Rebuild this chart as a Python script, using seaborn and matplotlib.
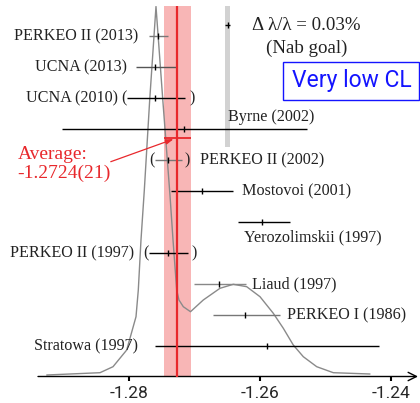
import matplotlib
matplotlib.use("Agg")
import matplotlib.pyplot as plt
import seaborn as sns
import pandas as pd
from matplotlib.patches import Rectangle

# ---------------- data ----------------
experiments = ["Stratowa (1997)", "PERKEO I (1986)", "Liaud (1997)", "PERKEO II (1997)",
               "Yerozolimskii (1997)", "Mostovoi (2001)", "PERKEO II (2002)", "Byrne (2002)",
               "UCNA (2010)", "UCNA (2013)", "PERKEO II (2013)"]
values = [-1.2590, -1.2623, -1.2663, -1.2741, -1.2597, -1.2689, -1.2740, -1.2716,
          -1.2761, -1.2761, -1.2755]
err_lo = [0.0171, 0.0048, 0.0038, 0.0029, 0.0037, 0.0047, 0.0020, 0.0187, 0.0042, 0.0028, 0.0014]
err_hi = [0.0172, 0.0053, 0.0042, 0.0031, 0.0043, 0.0048, 0.0021, 0.0187, 0.0046, 0.0032, 0.0014]

avg_value = -1.2726
avg_err = 0.0021
avg_text = ["Average:", "-1.2724(21)"]

nab_value = -1.2649
nab_rel = 0.0003  # 0.03 %

# ideogram curve (arbitrary height units)
curve_x = [-1.29256, -1.28443, -1.28244, -1.28035, -1.27893, -1.27858, -1.27817, -1.27766,
           -1.27684, -1.27588, -1.27484, -1.27374, -1.27328, -1.27272, -1.27237, -1.27171,
           -1.27061, -1.26866, -1.26611, -1.26408, -1.26203, -1.26000, -1.25797, -1.25644,
           -1.25492, -1.25339, -1.25134, -1.24881, -1.24321]
curve_h = [1.5, 3.8, 9.8, 26.5, 59.8, 86.5, 136.5, 186.5, 276.5, 370.0, 276.5, 181.0, 136.5,
           86.5, 76.5, 69.8, 64.8, 76.5, 88.2, 92.2, 89.8, 79.8, 63.2, 48.2, 31.5, 19.8, 9.8,
           3.8, 2.5]

ticks = [-1.28, -1.26, -1.24]
tick_labels = ["-1.28", "-1.26", "-1.24"]

# ---------------- style / layout ----------------
W, H = 420, 403
sns.set_style("white")
plt.rcParams["font.family"] = ["Liberation Serif", "DejaVu Serif"]

fig = plt.figure(figsize=(W / 100, H / 100), dpi=100)
ax_l, ax_r, ax_t, ax_b = 38, 418, 6, 376.5
ax = fig.add_axes([ax_l / W, (H - ax_b) / H, (ax_r - ax_l) / W, (ax_b - ax_t) / H])
ax.set_xlim(-1.293893, -1.235878)
ax.set_ylim(0, ax_b - ax_t)

ROW0, PITCH = 30.6, 30.95
rows = [ROW0 + PITCH * i for i in range(len(experiments))]
avg_row = 238.8
nab_row = 351.5

bar_colors = ["black", "#777777", "#888888", "black", "black", "black", "#777777", "black",
              "black", "#555555", "#777777"]

# bands
ax.axvspan(avg_value - avg_err, avg_value + avg_err, color="#f8b6b6", lw=0, zorder=0)
nab_err = abs(nab_value) * nab_rel
ax.axvspan(nab_value - nab_err, nab_value + nab_err, ymin=229.5 / (ax_b - ax_t), ymax=1,
           color="#d2d2d2", lw=0, zorder=0)

# ideogram curve
sns.lineplot(x=curve_x, y=curve_h, ax=ax, color="#8a8a8a", lw=1.0, zorder=2)

# error bars
df = pd.DataFrame({"exp": experiments, "val": values, "lo": err_lo, "hi": err_hi,
                   "row": rows, "color": bar_colors})
for _, r in df.iterrows():
    ax.hlines(r.row, r.val - r.lo, r.val + r.hi, color=r.color, lw=1.0, zorder=3)
    ax.vlines(r.val, r.row - 3, r.row + 3, color="black", lw=1.0, zorder=3)

# average
ax.axvline(avg_value, color="#e8282c", lw=1.6, zorder=4)
ax.hlines(avg_row, avg_value - avg_err, avg_value + avg_err, color="#e8282c", lw=1.3, zorder=4)

# nab marker
ax.hlines(nab_row, nab_value - nab_err, nab_value + nab_err, color="black", lw=1.0, zorder=3)
ax.vlines(nab_value, nab_row - 3, nab_row + 3, color="black", lw=1.0, zorder=3)

# labels: (anchor end, dx px, dy px, ha)
lab_layout = {
    "Stratowa (1997)": ("lo", -17, 0, "right"),
    "PERKEO I (1986)": ("hi", 7, 0, "left"),
    "Liaud (1997)": ("hi", 6, 0, "left"),
    "PERKEO II (1997)": ("lo", -15, 0, "right"),
    "Yerozolimskii (1997)": ("lo", 6.5, -15, "left"),
    "Mostovoi (2001)": ("hi", 9, 0, "left"),
    "PERKEO II (2002)": ("hi", 18, 0, "left"),
    "Byrne (2002)": ("hi", 8, 12, "right"),
    "UCNA (2010)": ("lo", -9.5, 0, "right"),
    "UCNA (2013)": ("lo", -9, 0, "right"),
    "PERKEO II (2013)": ("lo", -11, 0, "right"),
}
paren_rows = {"PERKEO II (1997)": 3.4, "PERKEO II (2002)": 2.7, "UCNA (2010)": 4.7}
FS = 11.6
for _, r in df.iterrows():
    end, dx, dy, ha = lab_layout[r.exp]
    xa = r.val - r.lo if end == "lo" else r.val + r.hi
    ax.annotate(r.exp, xy=(xa, r.row), xytext=(dx, dy), textcoords="offset pixels",
                ha=ha, va="center", fontsize=FS, color="#222222")
    if r.exp in paren_rows:
        ax.annotate("(", xy=(r.val - r.lo, r.row), xytext=(-0.5, 0), textcoords="offset pixels",
                    ha="right", va="center", fontsize=FS, color="#222222")
        ax.annotate(")", xy=(r.val + r.hi, r.row), xytext=(paren_rows[r.exp], 0),
                    textcoords="offset pixels", ha="left", va="center", fontsize=FS, color="#222222")

# nab text
ax.annotate("Δ λ/λ = 0.03%", xy=(nab_value, nab_row), xytext=(24, 0), textcoords="offset pixels",
            ha="left", va="center", fontsize=13.6, color="#222222")
ax.annotate("(Nab goal)", xy=(nab_value, nab_row), xytext=(38, -23), textcoords="offset pixels",
            ha="left", va="center", fontsize=13.6, color="#222222")

# average text + arrow
fig.text(18 / W, 1 - 154 / H, avg_text[0], ha="left", va="center", fontsize=14, color="#e8282c")
fig.text(17 / W, 1 - 173 / H, avg_text[1], ha="left", va="center", fontsize=14, color="#e8282c")
ax.annotate("", xy=(avg_value, avg_row), xytext=(-66.7, -24), textcoords="offset pixels",
            arrowprops=dict(arrowstyle="-|>,head_length=0.45,head_width=0.15", color="#e8282c",
                            lw=0.9, shrinkA=0, shrinkB=3))

# Very low CL box
fig.add_artist(Rectangle((282.7 / W, 1 - 100 / H), (419 - 282.7) / W, 38.3 / H,
                         transform=fig.transFigure, fill=False, edgecolor="#1414ff", lw=1.0))
fig.text(291.7 / W, 1 - 81 / H, "Very low CL", ha="left", va="center", fontsize=16.5,
         color="#1414ff", family="Roboto")

# axes styling
for s in ["left", "right", "top", "bottom"]:
    ax.spines[s].set_visible(False)
ax.set_yticks([])
ax.set_xticks(ticks)
ax.set_xticklabels(tick_labels, family="Roboto", fontsize=12.5)
ax.tick_params(axis="x", direction="out", length=3, width=1.5, pad=4, color="black", bottom=True)
ax.annotate("", xy=(1, 0), xytext=(0, 0), xycoords="axes fraction", textcoords="axes fraction",
            arrowprops=dict(arrowstyle="->,head_length=0.6,head_width=0.3", color="black", lw=1.0,
                            shrinkA=0, shrinkB=0))
ax.set_xlabel("")
ax.set_ylabel("")

fig.savefig("out.png", dpi=100)
